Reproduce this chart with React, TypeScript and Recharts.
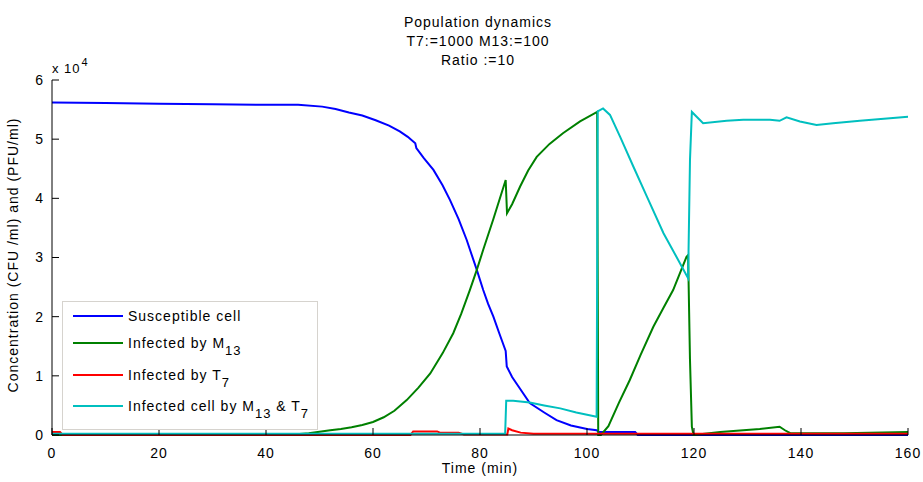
import React from 'react';
import { LineChart, Line, XAxis, YAxis } from 'recharts';

// values are concentrations (CFU/ml, PFU/ml)
const susceptibleT = [0, 10, 20, 30, 40, 46, 50.5, 53, 55.5, 58, 60.5, 63, 65, 66.5, 67.9, 68.1, 69.5, 71.3, 73, 74.4, 76, 77.5, 79.4, 80.6, 81.5, 82.5, 83.6, 84.8, 85.0, 86, 87.2, 89.3, 92, 94.3, 97, 100, 101.8, 102.2, 109, 109.5, 160];
const susceptibleV = [56200, 56100, 56000, 55900, 55800, 55800, 55500, 55100, 54500, 54000, 53200, 52300, 51300, 50400, 49300, 48500, 46800, 44800, 42200, 39700, 36500, 33000, 27900, 24500, 22200, 20000, 17200, 14200, 11600, 9800, 8200, 5400, 3800, 2500, 1600, 1000, 800, 500, 500, 0, 0];

const m13T = [0, 44, 48, 52, 54, 56, 58, 60, 62, 64, 66.3, 68.5, 70.7, 73, 75, 76.5, 78.1, 79.4, 80.6, 82.5, 84.8, 85.05, 86, 87.5, 89, 90.6, 93, 95.5, 98.7, 101.9, 102.1, 102.6, 104, 106, 108, 110, 112.4, 114.3, 116.1, 118.6, 118.9, 119.25, 119.6, 119.9, 124.9, 129.2, 132.3, 136, 137, 138, 148, 160];
const m13V = [0, 0, 300, 800, 1000, 1300, 1700, 2200, 3000, 4100, 5900, 8000, 10400, 13800, 17200, 20500, 24500, 27900, 31300, 36500, 43100, 37500, 39000, 42000, 44700, 47000, 49200, 51000, 53000, 54600, 0, 0, 1500, 5500, 9300, 13500, 18300, 21500, 24500, 30100, 30400, 12700, 1400, 0, 500, 800, 1000, 1400, 800, 300, 300, 500];

const t7T = [0, 1.5, 2, 67, 67.5, 72, 72.5, 76, 77, 85.1, 85.3, 86, 87.6, 90, 160];
const t7V = [500, 500, 0, 0, 600, 600, 400, 400, 100, 100, 1100, 800, 400, 200, 200];

const bothT = [0, 84.7, 84.9, 86.2, 89.3, 92, 95, 98, 101.8, 102.0, 103.0, 104.3, 106.2, 108.7, 111.2, 114.3, 117.4, 118.9, 119.25, 119.6, 121.7, 126.1, 129.2, 134.2, 136, 137.3, 139.8, 142.9, 146, 151, 160];
const bothV = [200, 200, 5800, 5800, 5500, 5000, 4500, 3800, 3100, 54700, 55200, 54100, 50400, 45300, 40300, 34100, 29000, 26500, 46500, 54600, 52700, 53100, 53300, 53300, 53100, 53700, 53000, 52400, 52700, 53100, 53800];

const xTicks = [0, 20, 40, 60, 80, 100, 120, 140, 160];
const yTicks = [0, 10000, 20000, 30000, 40000, 50000, 60000];
const titleLines = ['Population dynamics', 'T7:=1000 M13:=100', 'Ratio :=10'];

const SERIES = [
  { key: 'susceptible', name: 'Susceptible cell', color: '#0000ff', t: susceptibleT, v: susceptibleV },
  { key: 'm13', name: 'Infected by M_{13}', color: '#008000', t: m13T, v: m13V },
  { key: 't7', name: 'Infected by T_{7}', color: '#ff0000', t: t7T, v: t7V },
  { key: 'both', name: 'Infected cell by M_{13} & T_{7}', color: '#00bfbf', t: bothT, v: bothV },
];

const FONT = '"Liberation Sans", Arial, sans-serif';
const tickStyle = { fill: '#000', fontSize: 14, fontFamily: FONT, letterSpacing: 1 };

// MATLAB-ish tex: "M_{13}" -> M with subscript 13
function tex(s: string) {
  const parts = s.split(/_\{([^}]*)\}/);
  return parts.map((p, i) =>
    i % 2 === 1 ? (
      <span key={i} style={{ position: 'relative', top: 7, fontSize: 13 }}>{p}</span>
    ) : (
      <span key={i}>{p}</span>
    )
  );
}

function MatlabLegend() {
  return (
    <div
      style={{
        position: 'absolute',
        left: 62,
        top: 301,
        width: 254,
        height: 124,
        border: '1px solid #d6d3ce',
        background: '#fff',
        boxSizing: 'content-box',
        fontFamily: FONT,
        fontSize: 14,
        letterSpacing: 1,
        paddingTop: 3,
      }}
    >
      {SERIES.map((s, i) => (
        <div
          key={s.key}
          style={{
            display: 'flex',
            alignItems: 'center',
            height: 22,
            marginBottom: i === 0 ? 5 : 9.5,
            whiteSpace: 'nowrap',
          }}
        >
          <span style={{ display: 'inline-block', width: 50, height: 2, background: s.color, marginLeft: 10, marginRight: 5 }} />
          <span>{tex(s.name)}</span>
        </div>
      ))}
    </div>
  );
}

export default function App() {
  return (
    <div style={{ position: 'absolute', left: 0, top: 0, width: 923, height: 482, background: '#fff' }}>
      <LineChart width={923} height={482} margin={{ top: 80, right: 15, bottom: 17, left: 12 }}>
        <XAxis
          type="number"
          dataKey="t"
          domain={[0, 160]}
          ticks={xTicks}
          height={30}
          stroke="#000"
          tickSize={-7}
          tickMargin={20}
          tick={tickStyle}
          allowDuplicatedCategory={false}
        />
        <YAxis
          type="number"
          dataKey="v"
          domain={[0, 60000]}
          ticks={yTicks}
          width={40}
          stroke="#000"
          tickSize={-7}
          tickMargin={15}
          tick={tickStyle}
          tickFormatter={(v) => String(Number(v) / 10000)}
        />
        {SERIES.map((s) => (
          <Line
            key={s.key}
            data={s.t.map((t, i) => ({ t, v: s.v[i] }))}
            dataKey="v"
            type="linear"
            stroke={s.color}
            strokeWidth={2}
            dot={false}
            activeDot={false}
            isAnimationActive={false}
          />
        ))}
      </LineChart>
      <svg width={923} height={482} style={{ position: 'absolute', left: 0, top: 0, pointerEvents: 'none', fontFamily: FONT }}>
        {titleLines.map((l, i) => (
          <text key={i} x={478} y={26.5 + i * 19.3} textAnchor="middle" fontSize={14} letterSpacing={1} fill="#000">
            {l}
          </text>
        ))}
        <text x={52} y={73} fontSize={13} letterSpacing={1} fill="#000">
          x 10
          <tspan dx={1} dy={-7} fontSize={11}>4</tspan>
        </text>
        <text x={480} y={473} textAnchor="middle" fontSize={14} letterSpacing={1} fill="#000">
          Time (min)
        </text>
        <text x={18} y={255} transform="rotate(-90, 18, 255)" textAnchor="middle" fontSize={14} letterSpacing={1} fill="#000">
          Concentration (CFU /ml) and (PFU/ml)
        </text>
      </svg>
      <MatlabLegend />
    </div>
  );
}
